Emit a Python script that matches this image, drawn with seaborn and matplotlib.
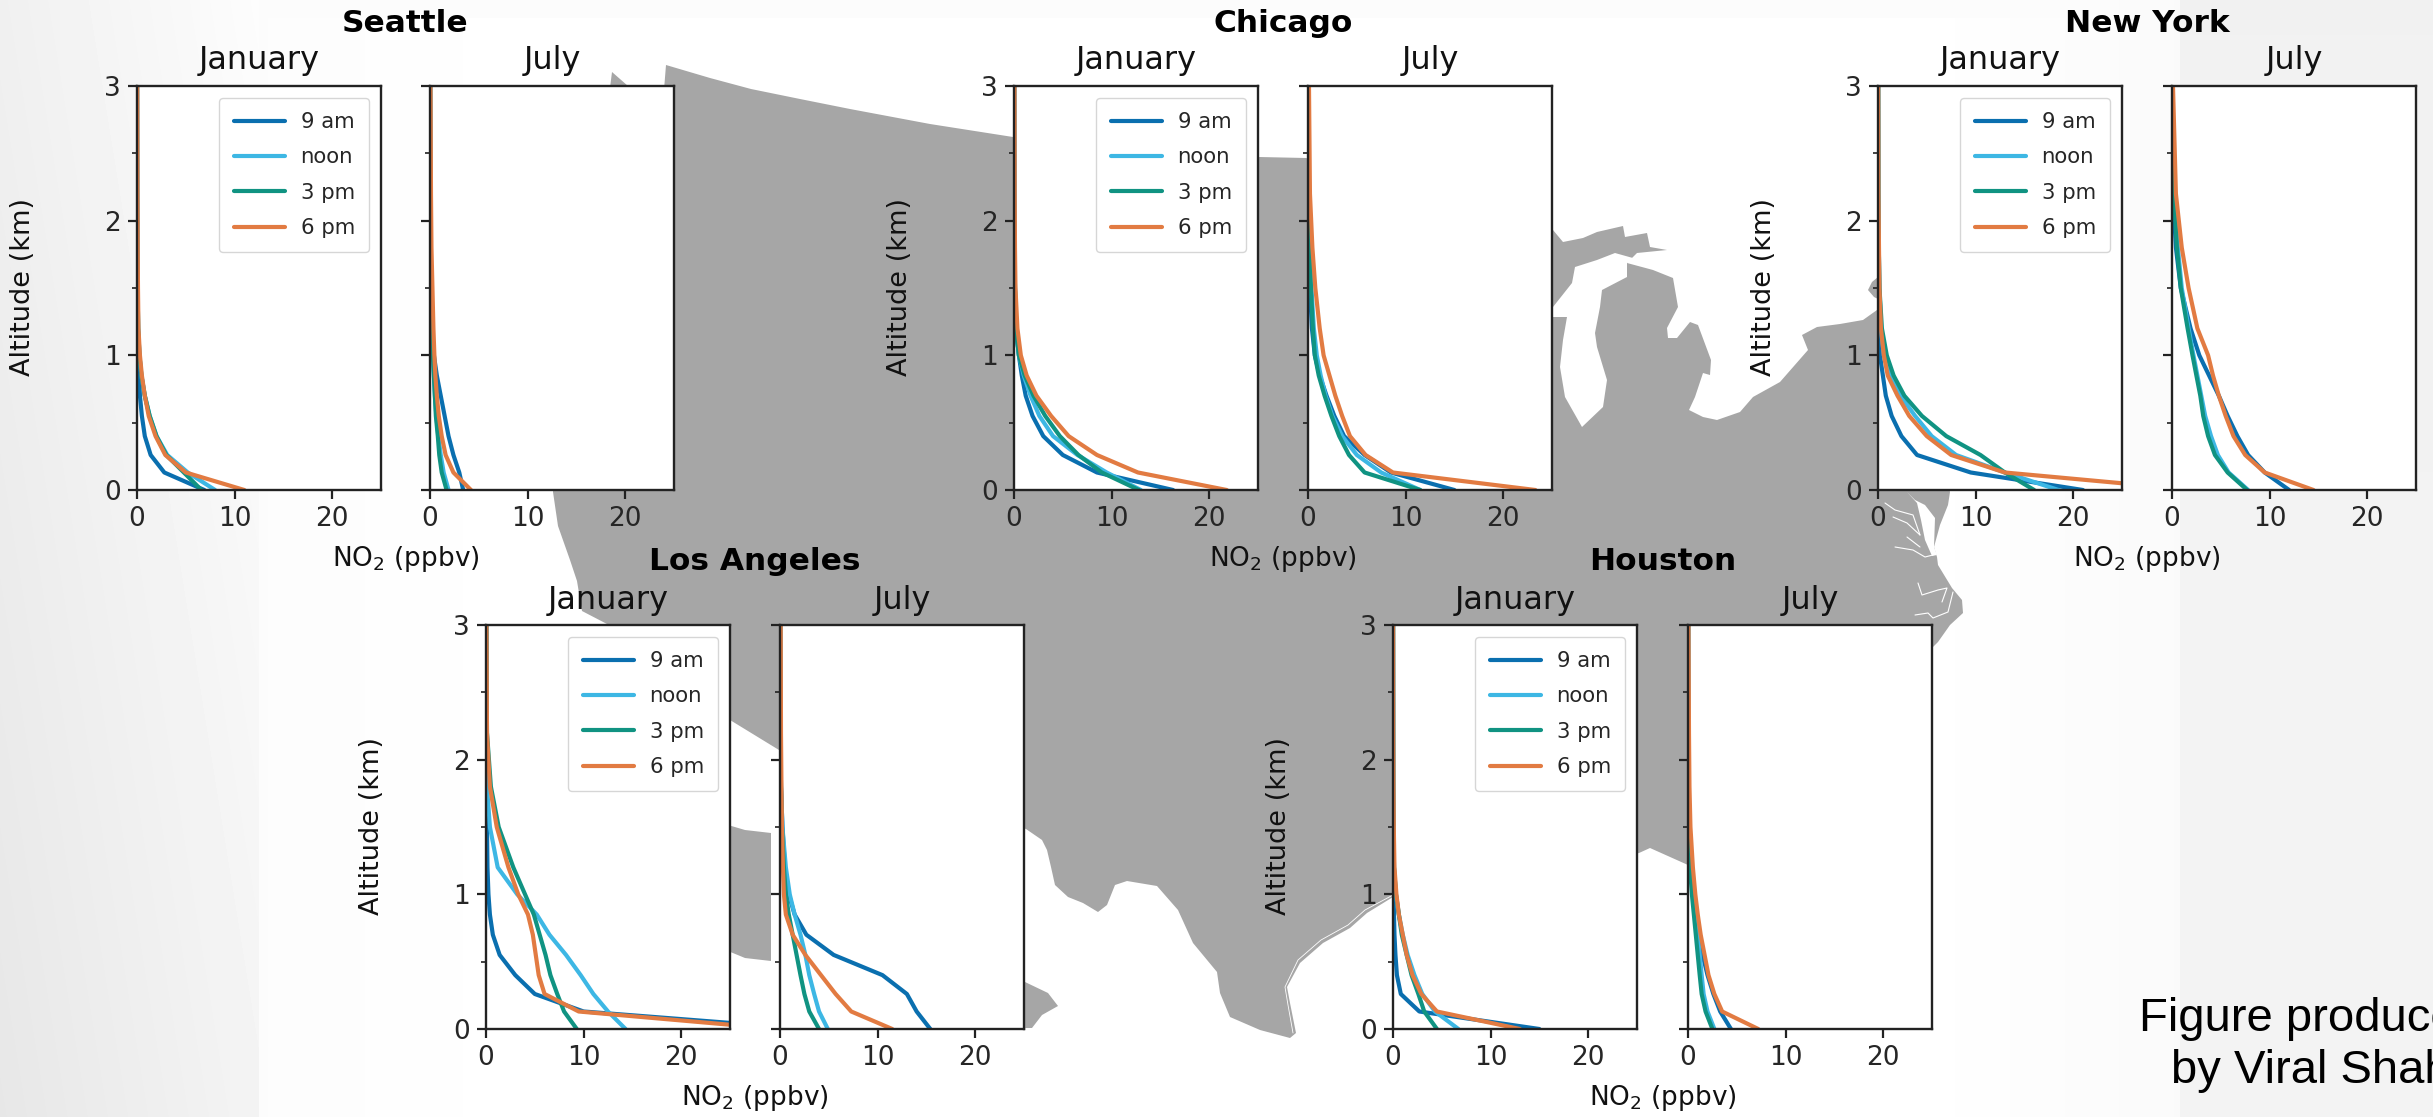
import numpy as np
import pandas as pd
import seaborn as sns
import matplotlib.pyplot as plt
from matplotlib.patches import Polygon

W, H = 2433, 1117

altitude = [0, 0.13, 0.26, 0.40, 0.55, 0.70, 0.85, 1.0, 1.2, 1.5, 1.8, 2.2, 3.0]
times = ["9 am", "noon", "3 pm", "6 pm"]
months = ["January", "July"]
cities = ["Seattle", "Chicago", "New York", "Los Angeles", "Houston"]
colors = ["#0A6FAF", "#3DB7E4", "#109382", "#E27B42"]

seattle_jan = [
    [6.9, 2.8, 1.4, 0.8, 0.5, 0.3, 0.2, 0.1, 0.05, 0.03, 0.02, 0.01, 0],
    [8.0, 5.2, 3.1, 2.0, 1.3, 0.8, 0.45, 0.25, 0.12, 0.06, 0.04, 0.02, 0.01],
    [6.6, 4.8, 3.0, 2.0, 1.3, 0.8, 0.45, 0.25, 0.12, 0.06, 0.04, 0.02, 0.01],
    [11.0, 5.0, 2.9, 1.9, 1.2, 0.8, 0.5, 0.3, 0.15, 0.1, 0.07, 0.05, 0.03],
]
seattle_jul = [
    [3.4, 3.0, 2.4, 1.9, 1.5, 1.1, 0.7, 0.4, 0.2, 0.1, 0.05, 0.03, 0.02],
    [1.9, 1.4, 1.1, 0.85, 0.65, 0.5, 0.4, 0.3, 0.2, 0.1, 0.06, 0.04, 0.02],
    [1.7, 1.2, 0.95, 0.8, 0.6, 0.5, 0.4, 0.3, 0.2, 0.1, 0.06, 0.04, 0.02],
    [4.2, 2.4, 1.6, 1.2, 0.9, 0.7, 0.55, 0.45, 0.35, 0.25, 0.15, 0.1, 0.05],
]
chicago_jan = [
    [16.3, 8.5, 5.0, 3.0, 1.9, 1.2, 0.8, 0.5, 0.2, 0.1, 0.05, 0.03, 0.02],
    [13.0, 9.5, 6.5, 4.0, 2.6, 1.7, 1.0, 0.5, 0.2, 0.1, 0.05, 0.03, 0.02],
    [12.8, 9.0, 6.6, 4.7, 3.2, 2.0, 1.1, 0.5, 0.2, 0.1, 0.05, 0.03, 0.02],
    [21.8, 12.7, 8.5, 5.6, 3.8, 2.3, 1.3, 0.7, 0.35, 0.15, 0.1, 0.07, 0.05],
]
chicago_jul = [
    [15.0, 8.5, 5.8, 3.7, 2.7, 1.9, 1.2, 0.7, 0.4, 0.2, 0.1, 0.05, 0.02],
    [11.5, 7.5, 5.0, 3.5, 2.5, 1.8, 1.3, 0.9, 0.6, 0.35, 0.2, 0.1, 0.05],
    [11.5, 5.8, 4.2, 3.2, 2.4, 1.7, 1.1, 0.7, 0.5, 0.3, 0.15, 0.08, 0.03],
    [23.3, 8.7, 5.9, 4.3, 3.5, 2.8, 2.2, 1.6, 1.2, 0.75, 0.45, 0.2, 0.1],
]
newyork_jan = [
    [21.0, 9.5, 4.0, 2.4, 1.4, 0.8, 0.5, 0.2, 0.1, 0.05, 0.03, 0.02, 0.01],
    [18.5, 13.0, 8.0, 5.5, 3.8, 2.3, 1.2, 0.6, 0.3, 0.15, 0.08, 0.04, 0.02],
    [16.0, 13.0, 10.5, 7.0, 4.5, 2.7, 1.6, 0.9, 0.4, 0.15, 0.08, 0.04, 0.02],
    [32.5, 13.0, 7.5, 5.0, 3.2, 2.0, 1.0, 0.6, 0.3, 0.15, 0.1, 0.05, 0.03],
]
newyork_jul = [
    [12.0, 9.5, 7.8, 6.7, 5.7, 4.8, 3.8, 2.8, 1.9, 0.9, 0.4, 0.1, 0.05],
    [7.8, 5.8, 4.7, 4.0, 3.4, 3.0, 2.6, 2.2, 1.7, 1.0, 0.6, 0.2, 0.05],
    [7.7, 5.7, 4.4, 3.7, 3.2, 2.9, 2.5, 2.1, 1.6, 0.9, 0.5, 0.2, 0.05],
    [14.5, 9.5, 7.5, 6.3, 5.5, 4.8, 4.2, 3.7, 2.6, 1.7, 1.0, 0.4, 0.1],
]
losangeles_jan = [
    [33.0, 10.0, 5.0, 3.0, 1.4, 0.7, 0.4, 0.25, 0.15, 0.1, 0.06, 0.04, 0.02],
    [14.3, 12.5, 11.0, 9.7, 8.2, 6.5, 5.2, 3.2, 1.2, 0.4, 0.1, 0.05, 0.03],
    [9.3, 8.0, 7.3, 6.6, 6.1, 5.5, 4.9, 4.0, 2.8, 1.3, 0.5, 0.1, 0.05],
    [30.0, 9.5, 6.0, 5.4, 5.1, 4.8, 4.3, 3.3, 2.3, 1.1, 0.4, 0.1, 0.05],
]
losangeles_jul = [
    [15.4, 14.0, 13.0, 10.5, 5.5, 2.7, 1.5, 0.9, 0.5, 0.25, 0.1, 0.05, 0.03],
    [4.9, 4.0, 3.5, 3.0, 2.6, 2.1, 1.5, 1.0, 0.6, 0.25, 0.1, 0.05, 0.03],
    [4.0, 3.0, 2.5, 2.1, 1.7, 1.3, 0.9, 0.6, 0.4, 0.2, 0.1, 0.05, 0.03],
    [11.5, 7.3, 5.7, 4.2, 2.6, 1.3, 0.6, 0.4, 0.3, 0.2, 0.15, 0.1, 0.07],
]
houston_jan = [
    [15.0, 2.7, 0.8, 0.4, 0.25, 0.15, 0.1, 0.05, 0.03, 0.02, 0.01, 0.01, 0],
    [6.7, 4.3, 3.0, 2.2, 1.5, 1.0, 0.6, 0.3, 0.1, 0.05, 0.03, 0.02, 0.01],
    [4.5, 3.2, 2.6, 1.9, 1.4, 0.9, 0.6, 0.3, 0.1, 0.05, 0.03, 0.02, 0.01],
    [13.0, 4.5, 2.9, 2.0, 1.4, 1.0, 0.6, 0.35, 0.15, 0.08, 0.05, 0.03, 0.02],
]
houston_jul = [
    [4.4, 3.3, 2.6, 2.0, 1.5, 1.2, 0.8, 0.5, 0.3, 0.1, 0.05, 0.03, 0.02],
    [2.7, 2.0, 1.6, 1.4, 1.2, 1.0, 0.7, 0.5, 0.3, 0.1, 0.05, 0.03, 0.02],
    [2.5, 1.8, 1.4, 1.2, 1.0, 0.8, 0.6, 0.4, 0.2, 0.1, 0.05, 0.03, 0.02],
    [7.2, 3.5, 2.7, 2.1, 1.7, 1.3, 1.0, 0.75, 0.5, 0.25, 0.15, 0.1, 0.05],
]
panel_data = [
    (seattle_jan, seattle_jul), (chicago_jan, chicago_jul), (newyork_jan, newyork_jul),
    (losangeles_jan, losangeles_jul), (houston_jan, houston_jul),
]

# left edges of the two panels of each city, then top and bottom, in picture pixels
jan_left = [137, 1014, 1878, 486, 1393]
jul_left = [430, 1308, 2172, 780, 1688]
panel_top = [86, 86, 86, 625, 625]
panel_w, panel_h = 244, 404

# backdrop map outline, in picture pixels
usa_outline = [
    (666, 65), (710, 78), (751, 89), (800, 99), (850, 109), (930, 124), (1013, 137), (1130, 150),
    (1259, 157), (1306, 158), (1553, 230),
    (1563, 242), (1583, 238), (1597, 232), (1623, 226), (1625, 237), (1647, 233), (1650, 247),
    (1667, 250), (1637, 253), (1627, 263), (1653, 270), (1673, 278), (1678, 307), (1667, 328),
    (1668, 338), (1677, 338), (1690, 322), (1698, 325), (1711, 360), (1710, 375), (1703, 373),
    (1695, 397), (1689, 410), (1703, 417), (1717, 420), (1740, 412), (1753, 397), (1780, 382),
    (1808, 350), (1802, 335), (1817, 327), (1840, 324), (1863, 320), (1877, 310), (1900, 300),
    (1950, 492), (1948, 505), (1940, 525), (1934, 547), (1937, 557), (1938, 565), (1952, 588),
    (1962, 600), (1963, 613), (1950, 625), (1938, 642), (1933, 647), (1900, 800), (1688, 865),
    (1650, 848), (1639, 853), (1393, 897), (1367, 913), (1350, 928), (1323, 943), (1300, 963),
    (1287, 987), (1290, 1003), (1296, 1033), (1290, 1038), (1260, 1030), (1230, 1017), (1220, 993),
    (1217, 972), (1193, 943), (1178, 910), (1157, 886), (1127, 881), (1115, 885), (1107, 905),
    (1098, 912), (1083, 903), (1068, 897), (1055, 885), (1051, 867), (1047, 850), (1042, 840),
    (1026, 829), (779, 750), (730, 720), (607, 624), (582, 611), (577, 581), (570, 560),
    (558, 526), (553, 492), (553, 300), (664, 90),
]
olympic_outline = [(612, 72), (628, 86), (628, 120), (606, 120)]
baja_outline = [(728, 825), (745, 830), (771, 833), (771, 961), (745, 958), (728, 951)]
gulf_outline = [(1025, 982), (1048, 993), (1058, 1006), (1042, 1015), (1032, 1028), (1025, 1028)]
ontario_outline = [(1868, 290), (1872, 282), (1878, 277), (1880, 300), (1874, 297)]
lake_michigan = [
    (1615, 253), (1597, 260), (1575, 267), (1572, 283), (1553, 307), (1553, 317), (1567, 317),
    (1563, 340), (1560, 367), (1565, 397), (1582, 427), (1603, 407), (1607, 380), (1597, 347),
    (1595, 333), (1600, 307), (1602, 290), (1627, 277), (1627, 263), (1640, 260),
]
chesapeake = [
    (1907, 492), (1915, 500), (1925, 505), (1935, 518), (1934, 547), (1937, 555), (1932, 556),
    (1925, 540), (1921, 520), (1917, 503),
]
inlets = [
    [(1885, 503), (1895, 510), (1913, 515), (1920, 535)],
    [(1893, 517), (1907, 523), (1920, 535)],
    [(1907, 537), (1920, 547)],
    [(1895, 547), (1913, 550), (1925, 557), (1933, 555)],
    [(1918, 583), (1922, 595), (1938, 590), (1947, 588), (1942, 602)],
    [(1915, 615), (1928, 613), (1933, 618), (1948, 612), (1953, 592)],
]
barrier_islands = [
    (1393, 895), (1365, 910), (1348, 925), (1321, 940), (1298, 960), (1285, 987), (1288, 1005),
    (1293, 1033),
]

sns.set_style("ticks")
plt.rcParams["font.family"] = ["DejaVu Sans"]
plt.rcParams["axes.linewidth"] = 1.7

fig = plt.figure(figsize=(W / 100, H / 100), dpi=100)

# slide background and map, drawn in picture pixels
bg = fig.add_axes([0, 0, 1, 1])
bg.set_xlim(0, W)
bg.set_ylim(H, 0)
bg.axis("off")
xx, yy = np.meshgrid(np.arange(W), np.arange(H))
shade = np.ones((H, W))
left = xx < 259
shade[left] = 0.905 + 0.05 * xx[left] / 259 + 0.035 * (1 - yy[left] / H)
right = xx >= 2180
shade[right] = 0.945 + 0.01 * (yy[right] / H)
middle = ~left & ~right
shade[middle] = 1 - 0.02 * np.clip((xx[middle] - 1900) / 280, 0, 1) - 0.012 * np.clip((560 - xx[middle]) / 300, 0, 1)
top = middle & (yy < 18)
shade[top] = np.minimum(shade[top], 0.985)
bg.imshow(shade, cmap="gray", vmin=0, vmax=1, extent=(0, W, H, 0), aspect="auto", zorder=0)
for outline in [usa_outline, olympic_outline, baja_outline, gulf_outline, ontario_outline]:
    bg.add_patch(Polygon(outline, closed=True, fc="#A6A6A6", ec="none", zorder=1))
for outline in [lake_michigan, chesapeake]:
    bg.add_patch(Polygon(outline, closed=True, fc="white", ec="none", zorder=2))
for inlet in inlets:
    bg.plot([p[0] for p in inlet], [p[1] for p in inlet], color="white", lw=0.8, zorder=2)
bg.plot([p[0] for p in barrier_islands], [p[1] for p in barrier_islands], color="white", lw=0.6, zorder=2)
bg.set_xlim(0, W)
bg.set_ylim(H, 0)


def draw_panel(ax, series, show_y):
    rows = []
    for name, values in zip(times, series):
        for alt, val in zip(altitude, values):
            rows.append({"time": name, "no2": val, "alt": alt})
    df = pd.DataFrame(rows)
    sns.lineplot(data=df, x="no2", y="alt", hue="time", hue_order=times, palette=colors,
                 orient="y", sort=False, estimator=None, linewidth=3, ax=ax, legend=show_y)
    ax.set_xlim(0, 25)
    ax.set_ylim(0, 3)
    ax.set_xticks([0, 10, 20])
    ax.set_yticks([0, 1, 2, 3])
    ax.set_yticks([0.5, 1.5, 2.5], minor=True)
    ax.set_xlabel("")
    ax.set_ylabel("")
    ax.tick_params(axis="both", which="major", labelsize=19, length=6.5, width=1.6, color="#222222", pad=5)
    ax.tick_params(axis="y", which="minor", length=3.5, width=1.2, color="#222222")
    if show_y:
        ax.legend(loc="upper right", fontsize=15.3, frameon=True, fancybox=True, framealpha=0.8,
                  edgecolor="#CCCCCC", handlelength=2.4, handletextpad=0.75, labelspacing=0.72,
                  borderpad=0.68, borderaxespad=0.55, title=None)
    else:
        ax.tick_params(axis="y", labelleft=False)
    for spine in ax.spines.values():
        spine.set_visible(True)
        spine.set_color("#222222")
    ax.set_facecolor("white")


for i, city in enumerate(cities):
    for j, left_px in enumerate([jan_left[i], jul_left[i]]):
        ax = fig.add_axes([left_px / W, 1 - (panel_top[i] + panel_h) / H, panel_w / W, panel_h / H])
        draw_panel(ax, panel_data[i][j], j == 0)
        fig.text((left_px + panel_w / 2) / W, 1 - (panel_top[i] - 25) / H, months[j], fontsize=23,
                 ha="center", va="center", color="#111111")
    centre = (jan_left[i] + jul_left[i] + panel_w) / 2
    fig.text(centre / W, 1 - (panel_top[i] - 63) / H, city, fontsize=22.5, fontweight="bold",
             ha="center", va="center", color="black")
    fig.text(centre / W, 1 - (panel_top[i] + panel_h + 69) / H, "NO$_2$ (ppbv)", fontsize=19,
             ha="center", va="center", color="#111111")
    fig.text((jan_left[i] - 114) / W, 1 - (panel_top[i] + panel_h / 2 - 1) / H, "Altitude (km)", fontsize=19.5,
             rotation=90, ha="center", va="center", color="#111111")

# the credit runs off the right edge of the slide, as it does in the source picture
fig.text(2139 / W, 1 - 1019 / H, "Figure produced", fontsize=34, family="Liberation Sans",
         ha="left", va="center", color="black")
fig.text(2171 / W, 1 - 1071 / H, "by Viral Shah", fontsize=34, family="Liberation Sans",
         ha="left", va="center", color="black")

fig.savefig("out.png", dpi=100)
